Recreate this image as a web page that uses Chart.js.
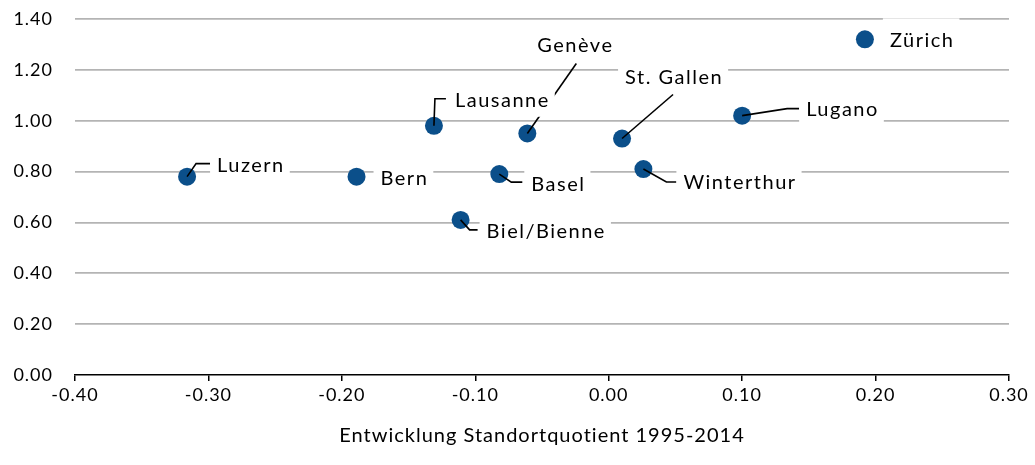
<!DOCTYPE html>
<html>
<head>
<meta charset="utf-8">
<script src="https://cdn.jsdelivr.net/npm/chart.js@4/dist/chart.umd.min.js"></script>
<style>
  html, body { margin: 0; padding: 0; background: #fff; }
  #wrap { width: 1035px; height: 465px; position: relative; }
</style>
</head>
<body>
<div id="wrap"><canvas id="c"></canvas></div>
<script>
// ===== DATA =====
const cities = ['Luzern', 'Bern', 'Lausanne', 'Genève', 'Basel', 'Biel/Bienne', 'St. Gallen', 'Winterthur', 'Lugano', 'Zürich']
const quotientChange = [-0.316, -0.189, -0.131, -0.061, -0.082, -0.111, 0.010, 0.026, 0.100, 0.192]
const yValues = [0.78, 0.78, 0.98, 0.95, 0.79, 0.61, 0.93, 0.81, 1.02, 1.32]
const xTicks = [-0.40, -0.30, -0.20, -0.10, 0.00, 0.10, 0.20, 0.30]
const yTicks = [0.00, 0.20, 0.40, 0.60, 0.80, 1.00, 1.20, 1.40]
const xTitle = 'Entwicklung Standortquotient 1995-2014'

// label layout (pixel offsets from the marker): text left/middle, leader path, box padding
const labelLayout = {
  'Luzern':      { t: [30, -11], lead: [[9, -13], [23, -13]] },
  'Bern':        { t: [24, 2],   lead: null },
  'Lausanne':    { t: [21, -25], lead: [[1, -27], [12, -27]] },
  'Genève':      { t: [10, -88], lead: [[49, -70]] },
  'Basel':       { t: [32, 10],  lead: [[12, 8], [23, 8]] },
  'Biel/Bienne': { t: [26, 12],  lead: [[9, 10], [17, 10]] },
  'St. Gallen':  { t: [3, -61],  lead: [[51, -44]] },
  'Winterthur':  { t: [40, 14],  lead: [[23, 13], [33, 13]] },
  'Lugano':      { t: [64, -6],  lead: [[45, -7], [57, -7]] },
  'Zürich':      { t: [25, 1],   lead: null, padTop: 22 },
}

const C = {
  dot:  '#0b4f8a',
  grid: '#b4b4b4',
  axis: '#000000',
  text: '#000000',
}
const FONT = 'Lato, "Open Sans", sans-serif'

const fmt = v => (Math.abs(v) < 1e-9 ? 0 : v).toFixed(2)

const spacing = {
  id: 'spacing',
  beforeLayout(chart) { chart.ctx.letterSpacing = '1px' },
  beforeDraw(chart) { chart.ctx.letterSpacing = '1px' },
}

const cityLabels = {
  id: 'cityLabels',
  afterDatasetsDraw(chart) {
    const ctx = chart.ctx
    const pts = chart.getDatasetMeta(0).data
    ctx.save()
    ctx.font = '20px ' + FONT
    ctx.letterSpacing = '1.5px'
    // leader lines first
    ctx.strokeStyle = '#000'
    ctx.lineWidth = 1.6
    cities.forEach((name, i) => {
      const L = labelLayout[name]
      if (!L.lead) return
      const p = pts[i]
      ctx.beginPath()
      ctx.moveTo(p.x, p.y)
      L.lead.forEach(o => ctx.lineTo(p.x + o[0], p.y + o[1]))
      ctx.stroke()
    })
    // boxes + text
    cities.forEach((name, i) => {
      const L = labelLayout[name]
      const p = pts[i]
      const tx = p.x + L.t[0], ty = p.y + L.t[1]
      const w = ctx.measureText(name).width
      const top = L.padTop || 16
      ctx.fillStyle = '#fff'
      ctx.fillRect(tx - 7, ty - top, w + 12, top + 16)
    })
    ctx.fillStyle = C.text
    ctx.textBaseline = 'middle'
    cities.forEach((name, i) => {
      const L = labelLayout[name]
      const p = pts[i]
      ctx.fillText(name, p.x + L.t[0], p.y + L.t[1])
    })
    ctx.restore()
  }
}

new Chart(document.getElementById('c'), {
  type: 'scatter',
  data: {
    datasets: [{
      label: 'Städte',
      data: cities.map((c, i) => ({ x: quotientChange[i], y: yValues[i] })),
      backgroundColor: C.dot,
      borderWidth: 0,
      pointRadius: 9,
      pointHoverRadius: 9,
    }]
  },
  options: {
    responsive: true, maintainAspectRatio: false,
    animation: false,
    events: [],
    layout: { padding: { top: 19, right: 26, left: 0, bottom: 0 } },
    plugins: { legend: { display: false }, tooltip: { enabled: false } },
    scales: {
      x: {
        type: 'linear',
        min: xTicks[0], max: xTicks[xTicks.length - 1],
        afterBuildTicks: s => { s.ticks = xTicks.map(v => ({ value: v })) },
        afterFit: s => { s.height = 90; s.paddingLeft = 0; s.paddingRight = 0 },
        border: { display: true, color: C.axis, width: 1.5 },
        grid: { drawOnChartArea: false, drawTicks: true, tickLength: 6, color: C.axis, lineWidth: 1.5 },
        ticks: { color: C.text, font: { family: FONT, size: 18 }, padding: 3, maxRotation: 0, callback: v => fmt(v) },
        title: { display: true, text: xTitle, color: C.text, font: { family: FONT, size: 20 }, padding: { top: 0, bottom: 17 } },
      },
      y: {
        type: 'linear',
        min: yTicks[0], max: yTicks[yTicks.length - 1],
        afterBuildTicks: s => { s.ticks = yTicks.map(v => ({ value: v })) },
        afterFit: s => { s.width = 75; s.paddingTop = 0; s.paddingBottom = 0 },
        border: { display: false },
        grid: { drawTicks: false, color: ctx => ctx.tick && ctx.tick.value === 0 ? 'rgba(0,0,0,0)' : C.grid, lineWidth: 1.8 },
        ticks: { color: C.text, font: { family: FONT, size: 18 }, padding: 22, callback: v => fmt(v) },
      }
    }
  },
  plugins: [spacing, cityLabels]
})
</script>
</body>
</html>
